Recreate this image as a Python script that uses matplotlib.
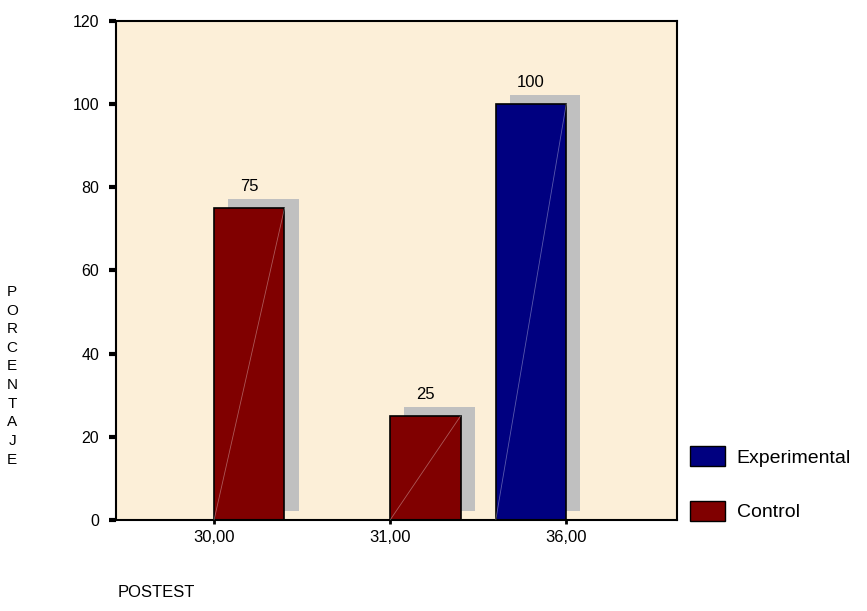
import numpy as np
import matplotlib
matplotlib.use("Agg")
import matplotlib.pyplot as plt

# categories and percentages per group
categorias = ["30,00", "31,00", "36,00"]
experimental = [0, 0, 100]
control = [75, 25, 0]
series = ["Experimental", "Control"]
colores = ["#000080", "#800000"]

plt.rcParams["font.family"] = ["Liberation Sans", "DejaVu Sans"]

fig = plt.figure(figsize=(8.67, 6.11), dpi=100)
ax = fig.add_axes([0.1338, 0.149, 0.6472, 0.8166])
ax.set_facecolor("#fcefd8")

x = np.arange(len(categorias))
ancho = 0.4
dx, dy = 0.08, 2.2  # shadow offset

for valores, color, desp in [(experimental, colores[0], -ancho / 2), (control, colores[1], ancho / 2)]:
    for xi, v in zip(x, valores):
        xc = xi + desp
        if v > 0:
            # gray drop shadow behind the bar
            ax.bar(xc + dx, v, width=ancho, bottom=dy, color="#c0c0c0", zorder=1)
            ax.bar(xc, v, width=ancho, color=color, edgecolor="black", linewidth=1.2, zorder=2)
            ax.plot([xc - ancho / 2, xc + ancho / 2], [0, v], color="white", lw=0.6, alpha=0.35, zorder=3)
            ax.text(xc, v + 3.3, str(v), ha="center", va="bottom", fontsize=12)
        else:
            ax.plot([xc - ancho / 2, xc + ancho / 2], [0, 0], color="black", lw=2, zorder=2)

ax.set_xlim(-0.557, 2.63)
ax.set_ylim(0, 120)
ax.set_yticks(range(0, 121, 20))
ax.set_xticks(x)
ax.set_xticklabels(categorias, fontsize=12)
ax.tick_params(axis="y", labelsize=11.5, length=5, width=3, direction="out", pad=7)
ax.tick_params(axis="x", length=3, width=2, direction="out", pad=4)
for s in ax.spines.values():
    s.set_linewidth(1.5)

# legend boxes outside the plot, to the right
hand = [plt.Rectangle((0, 0), 1, 1, facecolor=c, edgecolor="black", linewidth=1) for c in colores]
fig.legend(hand, series, loc="upper left", bbox_to_anchor=(0.778, 0.296), frameon=False,
           fontsize=14, handlelength=1.8, handleheight=1.25, labelspacing=1.75, handletextpad=0.6,
           borderpad=0.3)

fig.text(0.014, 0.385, "\n".join("PORCENTAJE"), ha="center", va="center", fontsize=11, linespacing=1.42)
fig.text(0.136, 0.018, "POSTEST", ha="left", va="bottom", fontsize=12)

fig.savefig("out.png", dpi=100)
